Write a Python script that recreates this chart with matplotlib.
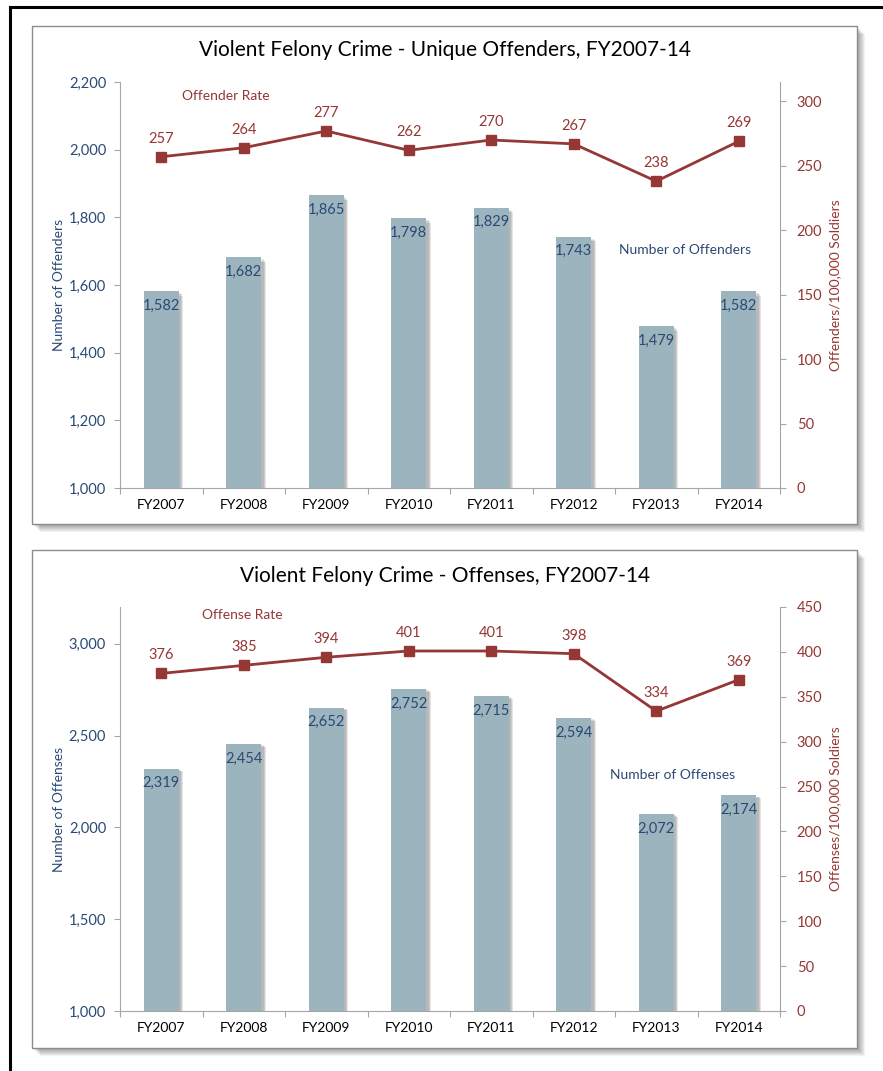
import numpy as np
import matplotlib.pyplot as plt
from matplotlib.patches import Rectangle
from matplotlib.ticker import FuncFormatter, FixedLocator

plt.rcParams['font.family'] = ['Lato', 'DejaVu Sans']

years = ['FY2007', 'FY2008', 'FY2009', 'FY2010', 'FY2011', 'FY2012', 'FY2013', 'FY2014']

offenders = [1582, 1682, 1865, 1798, 1829, 1743, 1479, 1582]
offender_rate = [257, 264, 277, 262, 270, 267, 238, 269]

offenses = [2319, 2454, 2652, 2752, 2715, 2594, 2072, 2174]
offense_rate = [376, 385, 394, 401, 401, 398, 334, 369]

BAR = '#9cb4bd'
RED = '#953735'
NAVY = '#2a4a75'
GRID = '#a6a6a6'

W, H = 883, 1071
fig = plt.figure(figsize=(W / 100, H / 100), dpi=100)


def fx(px):
    return px / W


def fy(py):
    return 1 - py / H


# outer frame lines (left and top)
fig.add_artist(plt.Line2D([fx(10), fx(10)], [0, fy(6.5)], color='black', lw=2.2,
                          transform=fig.transFigure))
fig.add_artist(plt.Line2D([fx(10), 1], [fy(6.5), fy(6.5)], color='black', lw=2.2,
                          transform=fig.transFigure))


def panel(x0, y0, x1, y1):
    # soft drop shadow, then the white box
    for i in range(8, 0, -1):
        fig.add_artist(Rectangle((fx(x0 + i), fy(y1 + i)), fx(x1 - x0), (y1 - y0) / H,
                                 transform=fig.transFigure, facecolor='black',
                                 alpha=0.05, edgecolor='none', zorder=-3))
    fig.add_artist(Rectangle((fx(x0), fy(y1)), fx(x1 - x0), (y1 - y0) / H,
                             transform=fig.transFigure, facecolor='white',
                             edgecolor='#8c8c8c', lw=1.0, zorder=-2))


def chart(top, bottom, bars, rate, ylim, rlim, rticks, title, ylabel, rlabel,
          rate_name, bar_name, rate_pos, bar_pos, title_y, lticks):
    ax = fig.add_axes([fx(120), fy(bottom), fx(660), (bottom - top) / H])
    ax.patch.set_alpha(0)
    x = np.arange(len(years))

    # bar shadows
    for k in range(3):
        ax.bar(x + 0.035 + k * 0.012, np.array(bars) - ylim[0] - 6 - k * 4,
               bottom=ylim[0], width=0.42, color='black', alpha=0.1, zorder=1)
    ax.bar(x, np.array(bars) - ylim[0], bottom=ylim[0], width=0.42, color=BAR, zorder=2)
    for xi, v in zip(x, bars):
        ax.annotate(f'{v:,}', (xi, v), xytext=(0, -10.5), textcoords='offset points',
                    ha='center', va='center', color=NAVY, fontsize=10.5, zorder=5)

    ax.set_xlim(-0.5, len(years) - 0.5)
    ax.set_ylim(*ylim)
    ax.xaxis.set_major_locator(FixedLocator(np.arange(-0.5, len(years), 1.0)))
    ax.xaxis.set_major_formatter(FuncFormatter(lambda v, p: ''))
    ax.xaxis.set_minor_locator(FixedLocator(x))
    ax.set_xticklabels(years, minor=True)
    ax.tick_params(axis='x', which='major', length=4, color=GRID, direction='out')
    ax.tick_params(axis='x', which='minor', length=0, pad=8, labelsize=10, labelcolor='black')
    ax.set_yticks(lticks)
    ax.yaxis.set_major_formatter(FuncFormatter(lambda v, p: f'{int(v):,}'))
    ax.tick_params(axis='y', length=4, color=GRID, labelcolor=NAVY, labelsize=10.5, pad=6)
    for s in ['top', 'right']:
        ax.spines[s].set_visible(False)
    for s in ['left', 'bottom']:
        ax.spines[s].set_color(GRID)
    ax.set_ylabel(ylabel, color=NAVY, fontsize=10, labelpad=3)

    ax2 = ax.twinx()
    ax2.plot(x, rate, color=RED, lw=2.0, marker='s', markersize=6.5, zorder=4)
    for xi, v in zip(x, rate):
        ax2.annotate(f'{v}', (xi, v), xytext=(0, 13), textcoords='offset points',
                     ha='center', va='center', color=RED, fontsize=10.5)
    ax2.set_ylim(*rlim)
    ax2.set_yticks(rticks)
    ax2.tick_params(axis='y', length=4, color=GRID, labelcolor=RED, labelsize=10.5, pad=8)
    for s in ['top', 'left', 'bottom']:
        ax2.spines[s].set_visible(False)
    ax2.spines['right'].set_color(GRID)
    ax2.set_ylabel(rlabel, color=RED, fontsize=10, labelpad=5)

    fig.text(fx(rate_pos[0]), fy(rate_pos[1]), rate_name, color=RED, fontsize=10,
             ha='center', va='center')
    fig.text(fx(bar_pos[0]), fy(bar_pos[1]), bar_name, color=NAVY, fontsize=10,
             ha='center', va='center')
    fig.text(fx(445), fy(title_y), title, fontsize=15, ha='center', va='center')


panel(32, 26, 857, 524)
panel(32, 550, 857, 1048)

chart(82, 488, offenders, offender_rate, (1000, 2200), (0, 315), range(0, 301, 50),
      'Violent Felony Crime - Unique Offenders, FY2007-14', 'Number of Offenders',
      'Offenders/100,000 Soldiers', 'Offender Rate', 'Number of Offenders',
      (226, 96), (685, 250), 50, range(1000, 2201, 200))

chart(607, 1011, offenses, offense_rate, (1000, 3200), (0, 450), range(0, 451, 50),
      'Violent Felony Crime - Offenses, FY2007-14', 'Number of Offenses',
      'Offenses/100,000 Soldiers', 'Offense Rate', 'Number of Offenses',
      (242, 615), (673, 775), 576, range(1000, 3001, 500))

fig.savefig('out.png', dpi=100)
